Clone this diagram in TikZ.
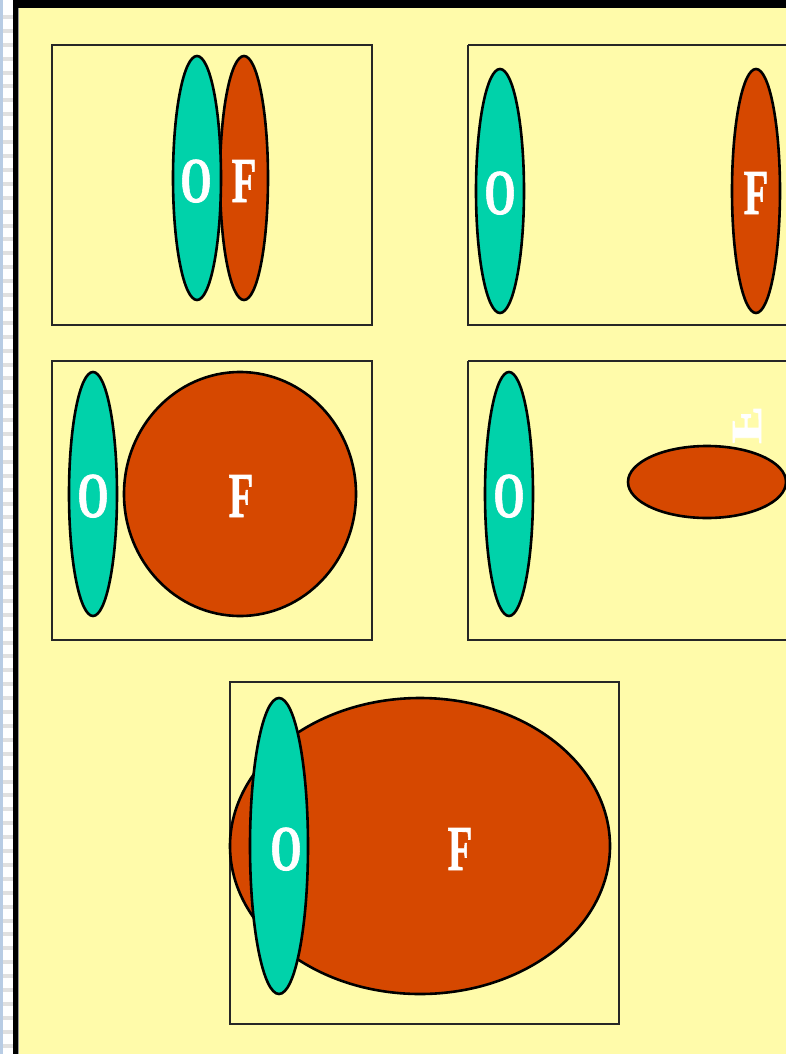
\documentclass[tikz,border=0pt]{standalone}
\usepackage{fontspec}
\setmainfont{Liberation Serif}
\newfontfamily\lblfont{Liberation Serif Bold}[FakeBold=1.3]
\begin{document}
\begin{tikzpicture}[x=1pt,y=-1pt,
  panel/.style={draw=black!85,line width=1.6pt},
  teal/.style={draw=black,line width=2.6pt,fill=tealc},
  orng/.style={draw=black,line width=2.6pt,fill=orangec},
  lbl/.style={text=white,font=\lblfont\fontsize{40}{40}\selectfont,inner sep=0pt,anchor=base,yscale=1.6}]
\definecolor{bgc}{RGB}{255,251,170}
\definecolor{tealc}{RGB}{0,210,170}
\definecolor{orangec}{RGB}{214,72,0}
\definecolor{stripb}{RGB}{184,204,228}
\useasboundingbox (0,0) rectangle (786,1054);
% background
\fill[bgc] (0,0) rectangle (786,1054);
\fill[white] (0,0) rectangle (13,1054);
\fill[stripb] (0,0) rectangle (3,1054);
\foreach \k in {0,...,75} {\fill[black!12] (3,{15+\k*13.9}) rectangle (13,{19+\k*13.9});}
\fill[black] (13,0) rectangle (18,1054);
\fill[black!40] (18,0) rectangle (19,1054);
\fill[black] (13,0) rectangle (786,8);
% panels
\draw[panel] (52,45) rectangle (372,325);
\draw[panel] (468,45) -- (468,325) -- (790,325);
\draw[panel] (468,45) -- (790,45);
\draw[panel] (52,361) rectangle (372,640);
\draw[panel] (468,361) -- (468,640) -- (790,640);
\draw[panel] (468,361) -- (790,361);
\draw[panel] (230,682) rectangle (619,1024);
% panel 1
\draw[orng] (244,178) ellipse [x radius=24,y radius=122];
\draw[teal] (197,178) ellipse [x radius=24,y radius=122];
\node[lbl] (o1) at (196,202) {O};
\node[lbl] (f1) at (244,202) {F};
% panel 2
\draw[teal] (500,191) ellipse [x radius=24,y radius=122];
\draw[orng] (756,191) ellipse [x radius=24,y radius=122];
\node[lbl] (o2) at (500,214) {O};
\node[lbl] (f2) at (756,214) {F};
% panel 3
\draw[teal] (93,494) ellipse [x radius=24,y radius=122];
\draw[orng] (240,494) ellipse [x radius=116,y radius=122];
\node[lbl] (o3) at (93,517) {O};
\node[lbl] (f3) at (241,517) {F};
% panel 4
\draw[teal] (509,494) ellipse [x radius=24,y radius=122];
\draw[orng] (707,482) ellipse [x radius=79,y radius=36];
\node[lbl] (o4) at (509,517) {O};
\node[text=white,font=\lblfont\fontsize{40}{40}\selectfont,inner sep=0pt] (f4) at (747,425) {\rotatebox{-90}{\reflectbox{\scalebox{1.55}[1.08]{F}}}};
% panel 5
\draw[orng] (420,846) ellipse [x radius=190,y radius=148];
\draw[teal] (279,846) ellipse [x radius=29,y radius=148];
\node[lbl] (o5) at (286,870) {O};
\node[lbl] (f5) at (460,870) {F};
\end{tikzpicture}
\end{document}
